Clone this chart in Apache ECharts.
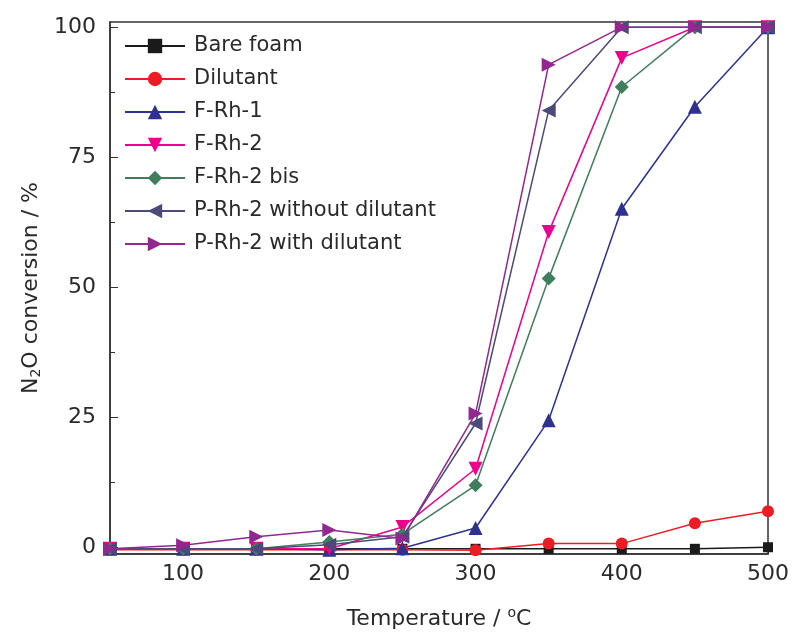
<!DOCTYPE html>
<html>
<head>
<meta charset="utf-8">
<script src="https://cdn.jsdelivr.net/npm/echarts@6/dist/echarts.min.js"></script>
<style>
html,body{margin:0;padding:0;background:#fff;}
#c{width:792px;height:635px;}
</style>
</head>
<body>
<div id="c"></div>
<script>
// Data
const temperatures = [50, 100, 150, 200, 250, 300, 350, 400, 450, 500];
const bareFoam     = [-0.3, -0.3, -0.3, -0.3, -0.3, -0.3, -0.3, -0.3, -0.3, 0];
const dilutant     = [-0.5, -0.5, -0.5, -0.5, -0.5, -0.6, 0.7, 0.7, 4.6, 6.9];
const fRh1         = [-0.3, -0.3, -0.3, -0.5, -0.2, 3.7, 24.4, 65.1, 84.7, 100];
const fRh2         = [-0.3, -0.3, -0.3, -0.3, 3.9, 15.1, 60.6, 94.1, 100, 100];
const fRh2bis      = [-0.3, -0.3, -0.3, 1.0, 2.5, 11.9, 51.7, 88.5, 100, 100];
const pRh2without  = [-0.3, -0.3, -0.3, 0.5, 2.0, 23.8, 84.0, 100, 100, 100];
const pRh2with     = [-0.3, 0.4, 2.0, 3.3, 1.7, 25.7, 92.8, 100, 100, 100];
const xTicks = [100, 200, 300, 400, 500];
const yTicks = [0, 25, 50, 75, 100];
const yMinorTicks = [12.5, 37.5, 62.5, 87.5];

const FONT = 'DejaVu Sans';
const seriesDefs = [
  {name: 'Bare foam', data: bareFoam, color: '#1a1a1a', symbol: 'rect', size: 10, rot: 0},
  {name: 'Dilutant', data: dilutant, color: '#ed1c24', symbol: 'circle', size: 12, rot: 0},
  {name: 'F-Rh-1', data: fRh1, color: '#2e3192', symbol: 'triangle', size: 14, rot: 0},
  {name: 'F-Rh-2', data: fRh2, color: '#ec008c', symbol: 'triangle', size: 14, rot: 180},
  {name: 'F-Rh-2 bis', data: fRh2bis, color: '#3f7d5c', symbol: 'diamond', size: 14, rot: 0},
  {name: 'P-Rh-2 without dilutant', data: pRh2without, color: '#4b4a7a', symbol: 'triangle', size: 14, rot: 90},
  {name: 'P-Rh-2 with dilutant', data: pRh2with, color: '#92278f', symbol: 'triangle', size: 14, rot: -90}
];

const chart = echarts.init(document.getElementById('c'), null, {renderer: 'canvas'});
const yMin = -1.3, yMax = 101;

chart.setOption({
  backgroundColor: '#fff',
  animation: false,
  grid: {left: 110, right: 16, top: 22, bottom: 81, show: true, borderColor: '#333', borderWidth: 1.5, backgroundColor: 'transparent'},
  legend: {
    orient: 'vertical', left: 119, top: 30,
    itemWidth: 60, itemHeight: 18, itemGap: 11,
    textStyle: {fontFamily: FONT, fontSize: 21, color: '#2a2a2a', lineHeight: 22, padding: [0, 0, 0, 4]},
    data: seriesDefs.map(s => s.name)
  },
  xAxis: {
    type: 'value', min: 50, max: 500,
    name: '{a|Temperature / }{s|o}{a|C}',
    nameLocation: 'middle', nameGap: 52,
    nameTextStyle: {rich: {
      a: {fontFamily: FONT, fontSize: 22, color: '#2a2a2a', verticalAlign: 'bottom'},
      s: {fontFamily: FONT, fontSize: 14, color: '#2a2a2a', verticalAlign: 'top', padding: [0, 0, 10, 0]}
    }},
    axisLine: {show: true, onZero: false, lineStyle: {color: '#333', width: 1.5}},
    axisTick: {show: true, inside: true, length: 7, customValues: xTicks, lineStyle: {color: '#333'}},
    axisLabel: {customValues: xTicks, fontFamily: FONT, fontSize: 22, color: '#2a2a2a', margin: 9},
    splitLine: {show: false}
  },
  yAxis: [{
    type: 'value', min: yMin, max: yMax,
    name: '{a|N}{b|2}{a|O conversion / %}',
    nameLocation: 'middle', nameGap: 67, nameRotate: 90,
    nameTextStyle: {rich: {
      a: {fontFamily: FONT, fontSize: 22, color: '#2a2a2a'},
      b: {fontFamily: FONT, fontSize: 14, color: '#2a2a2a', padding: [10, 0, 0, 0]}
    }},
    axisLine: {show: true, onZero: false, lineStyle: {color: '#333', width: 1.5}},
    axisTick: {show: true, inside: true, length: 8, customValues: yTicks, lineStyle: {color: '#333'}},
    axisLabel: {customValues: yTicks, fontFamily: FONT, fontSize: 22, color: '#2a2a2a', margin: 14},
    splitLine: {show: false}
  }, {
    type: 'value', min: yMin, max: yMax, position: 'left',
    axisLine: {show: false},
    axisTick: {show: true, inside: true, length: 5, customValues: yMinorTicks, lineStyle: {color: '#333'}},
    axisLabel: {show: false},
    splitLine: {show: false}
  }],
  series: seriesDefs.map(s => ({
    name: s.name, type: 'line', yAxisIndex: 0,
    data: temperatures.map((t, i) => [t, s.data[i]]),
    symbol: s.symbol, symbolSize: s.size, symbolRotate: s.rot,
    showAllSymbol: true,
    itemStyle: {color: s.color},
    lineStyle: {color: s.color, width: 1.5},
    clip: false
  }))
});
</script>
</body>
</html>
